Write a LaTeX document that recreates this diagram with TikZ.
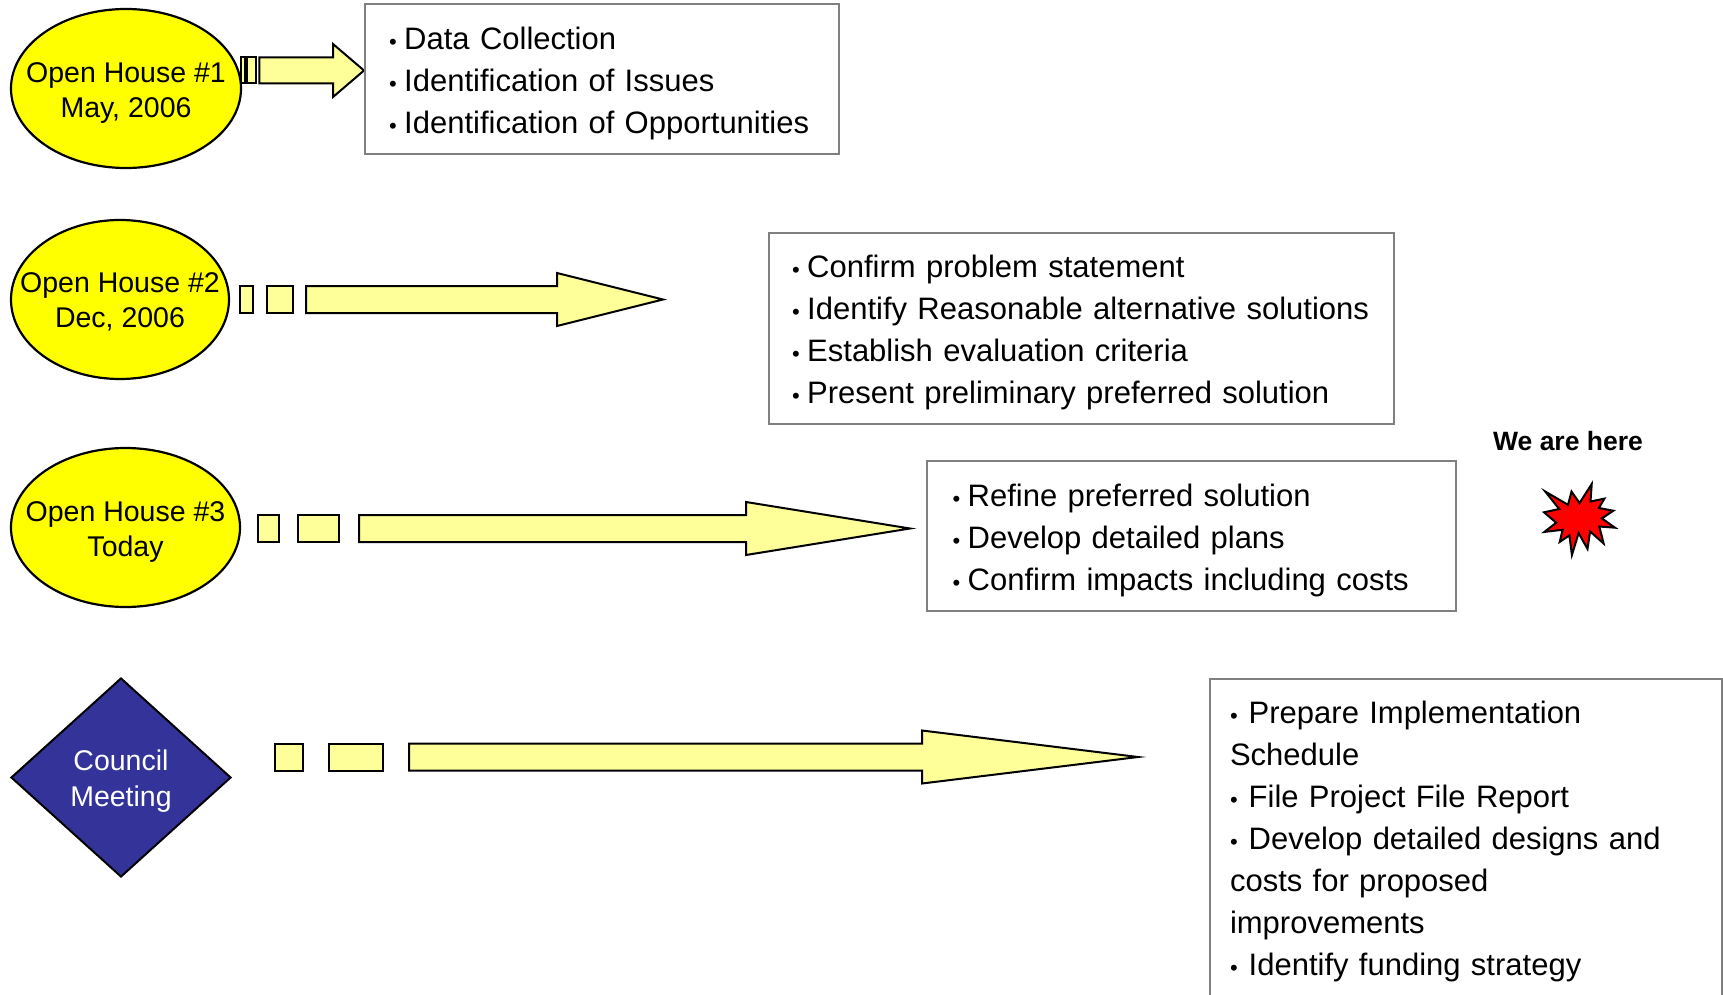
\documentclass[tikz,border=0pt]{standalone}
\usepackage{fontspec}
\setmainfont{Liberation Sans}
\usetikzlibrary{shapes.geometric}
\definecolor{ovalyellow}{RGB}{255,255,0}
\definecolor{arrowyellow}{RGB}{255,255,153}
\definecolor{councilblue}{RGB}{51,51,153}
\definecolor{boxgray}{RGB}{128,128,128}
\definecolor{starred}{RGB}{255,0,0}
\newcommand\bul{{\fontsize{22}{22}\selectfont •}\hspace{7.5pt}}
\newcommand\bulw{{\fontsize{22}{22}\selectfont •}\hspace{11pt}}
\newcommand\topstrut{\rule{0pt}{31pt}}
\newcommand\blockarrow[6]{%
  \draw[arrowpart] (#1,#4-#5) -- (#2,#4-#5) -- (#2,#4-#6) -- (#3,#4) -- (#2,#4+#6) -- (#2,#4+#5) -- (#1,#4+#5) -- cycle;}
\begin{document}
\begin{tikzpicture}[x=1pt,y=-1pt,
  ovalshape/.style={ellipse, draw=black, line width=2.2pt, fill=ovalyellow, inner sep=0pt},
  ovaltext/.style={align=center, inner sep=0pt, font=\fontsize{28.5}{35}\selectfont},
  listbox/.style={draw=boxgray, line width=2pt, fill=white, anchor=north west, align=left, inner ysep=0pt, font=\fontsize{31}{42}\selectfont},
  arrowpart/.style={draw=black, line width=2pt, fill=arrowyellow, line join=miter},
]
\useasboundingbox (0,0) rectangle (1723,995);
\clip (0,0) rectangle (1723,995);
\fill[white] (0,0) rectangle (1723,995);

% ---- row 1
\node[ovalshape, minimum width=230pt, minimum height=159pt] (oh1) at (126,88.5) {};
\node[ovaltext, yshift=-4.4pt] (oh1t) at (oh1.center) {Open House \#1\\May, 2006};
\draw[arrowpart] (240.7,57.5) rectangle (245,83.5);
\draw[arrowpart] (247.3,57.5) rectangle (256,83.5);
\blockarrow{259.3}{333}{364}{70.5}{13}{26.5}
\node[listbox, text width=426pt, inner xsep=24pt, minimum height=150pt] (b1) at (364,3)
  {\topstrut\bul Data Collection\\\bul Identification of Issues\\\bul Identification of Opportunities};

% ---- row 2
\node[ovalshape, minimum width=218pt, minimum height=159pt] (oh2) at (120,299.5) {};
\node[ovaltext, yshift=-2.4pt] (oh2t) at (oh2.center) {Open House \#2\\Dec, 2006};
\draw[arrowpart] (240,286) rectangle (253,313);
\draw[arrowpart] (267,286) rectangle (293,313);
\blockarrow{306}{557}{663}{299.5}{13.5}{26.5}
\node[listbox, text width=579pt, inner xsep=23pt, minimum height=191pt] (b2) at (768,232)
  {\topstrut\bul Confirm problem statement\\\bul Identify Reasonable alternative solutions\\\bul Establish evaluation criteria\\\bul Present preliminary preferred solution};

% ---- row 3
\node[ovalshape, minimum width=229pt, minimum height=159pt] (oh3) at (125.5,527.5) {};
\node[ovaltext, yshift=-5pt] (oh3t) at (oh3.center) {Open House \#3\\Today};
\draw[arrowpart] (258,515) rectangle (279,542);
\draw[arrowpart] (298,515) rectangle (339,542);
\blockarrow{359}{746}{910}{528.5}{13.5}{26.5}
\node[listbox, text width=478pt, inner xsep=25.5pt, minimum height=150pt] (b3) at (926,460)
  {\topstrut\bul Refine preferred solution\\\bul Develop detailed plans\\\bul Confirm impacts including costs};

\node[font=\bfseries\fontsize{26.5}{30}\selectfont, inner sep=0pt] (here) at (1568,441.5) {We are here};
\begin{scope}[shift={(1544,484)}]
\draw[fill=starred, draw=black, line width=2pt, line join=miter] (35.5,19.1) -- (27.5,7.5) -- (24.0,20.8) -- (1.2,7.5) -- (15.2,25.0) -- (0,28.3) -- (12.2,38.7) -- (0.4,47.9) -- (18.6,45.8) -- (15.7,57.9) -- (25.4,51.4) -- (27.9,71.0) -- (34.6,49.1) -- (43.5,64.9) -- (46.1,47.5) -- (59.6,59.5) -- (55.3,42.5) -- (71.0,43.7) -- (57.9,34.4) -- (69.3,26.7) -- (54.9,24.0) -- (60.4,14.6) -- (46.5,17.5) -- (47.7,0) -- cycle;
\end{scope}

% ---- row 4
\node[diamond, draw=black, line width=2pt, fill=councilblue, inner sep=0pt, minimum width=220pt, minimum height=199pt] (cm) at (121,777.5) {};
\node[align=center, inner sep=0pt, text=white, yshift=-3.8pt, font=\fontsize{28.5}{36}\selectfont] (cmt) at (cm.center) {Council\\Meeting};
\draw[arrowpart] (275,743.5) rectangle (303,770.5);
\draw[arrowpart] (329,743.5) rectangle (383,770.5);
\blockarrow{409}{922}{1138}{757}{13.5}{26.5}
\node[listbox, text width=472pt, inner xsep=20pt, inner ysep=22pt] (b4) at (1209,678)
  {\bulw Prepare Implementation\\Schedule\\\bulw File Project File Report\\\bulw Develop detailed designs and\\costs for proposed\\improvements\\\bulw Identify funding strategy};
\end{tikzpicture}
\end{document}
